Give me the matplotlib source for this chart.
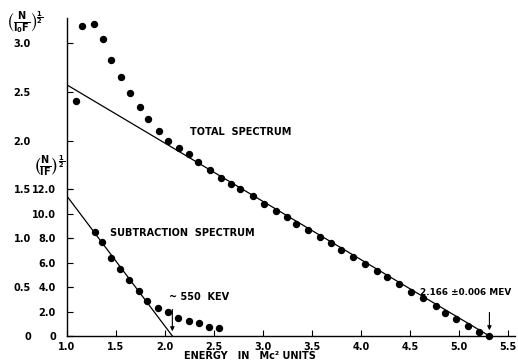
import matplotlib.pyplot as plt

# Kurie plot data: total spectrum on the (N/IoF)^1/2 scale,
# subtraction spectrum on the (N/IF)^1/2 scale
total_w = [1.09, 1.15, 1.28, 1.37, 1.45, 1.55, 1.64, 1.74, 1.83, 1.94,
           2.03, 2.14, 2.24, 2.34, 2.46, 2.57, 2.67, 2.77, 2.90, 3.01,
           3.13, 3.24, 3.34, 3.46, 3.58, 3.69, 3.80, 3.92, 4.04, 4.16,
           4.27, 4.39, 4.51, 4.63, 4.76, 4.86, 4.97, 5.09, 5.20, 5.31]
total_k = [2.41, 3.17, 3.19, 3.04, 2.83, 2.65, 2.49, 2.34, 2.22, 2.10,
           2.00, 1.92, 1.86, 1.78, 1.70, 1.62, 1.56, 1.50, 1.43, 1.35,
           1.28, 1.22, 1.15, 1.08, 1.01, 0.95, 0.88, 0.81, 0.74, 0.67,
           0.60, 0.53, 0.45, 0.39, 0.31, 0.24, 0.17, 0.10, 0.04, 0.0]
total_fit_w = [1.0, 5.31]
total_fit_k = [2.57, 0.0]

sub_w = [1.29, 1.36, 1.45, 1.54, 1.63, 1.73, 1.82, 1.93, 2.03, 2.13,
         2.24, 2.35, 2.45, 2.55]
sub_k = [8.5, 7.7, 6.4, 5.5, 4.6, 3.65, 2.9, 2.3, 1.95, 1.45,
         1.25, 1.05, 0.72, 0.65]
sub_fit_w = [1.0, 2.075]
sub_fit_k = [11.45, 0.0]

x_ticks = [1.0, 1.5, 2.0, 2.5, 3.0, 3.5, 4.0, 4.5, 5.0, 5.5]
outer_ticks = [0, 0.5, 1.0, 1.5, 2.0, 2.5, 3.0]
outer_labels = ["0", "0.5", "1.0", "1.5", "2.0", "2.5", "3.0"]
inner_ticks = [0, 2, 4, 6, 8, 10, 12]
inner_labels = ["0", "2.0", "4.0", "6.0", "8.0", "10.0", "12.0"]

plt.rcParams['font.family'] = 'DejaVu Sans'
plt.rcParams['font.weight'] = 'bold'
plt.rcParams['mathtext.fontset'] = 'dejavusans'
FS = 7

W, H = 518, 360
fig = plt.figure(figsize=(W / 100, H / 100), dpi=100)
ax = fig.add_axes([67 / W, 24 / H, 448 / W, 318 / H])
ax.set_xlim(1.0, 5.571)
ax.set_ylim(0, 3.255)
ax2 = ax.twinx()
ax2.set_ylim(0, 3.255 * 8)

for a in (ax, ax2):
    for s in ("top", "right"):
        a.spines[s].set_visible(False)
ax2.spines["left"].set_visible(False)
ax2.spines["bottom"].set_visible(False)
ax.spines["left"].set_linewidth(1.0)
ax.spines["bottom"].set_linewidth(1.0)

ax.set_xticks(x_ticks)
ax.set_xticklabels([f"{t:.1f}" for t in x_ticks], fontsize=FS, fontweight='bold')
ax.tick_params(axis='x', direction='in', length=4, width=0.8, pad=4)

ax.set_yticks(outer_ticks)
ax.set_yticklabels(outer_labels, fontsize=FS, fontweight='bold')
ax.tick_params(axis='y', direction='in', length=4, width=0.8, pad=26)

ax2.yaxis.set_ticks_position('left')
ax2.set_yticks(inner_ticks)
ax2.set_yticklabels(inner_labels, fontsize=FS, fontweight='bold')
ax2.tick_params(axis='y', direction='in', length=4, width=0.8, pad=8)

# total spectrum
ax.plot(total_fit_w, total_fit_k, color='black', lw=0.9)
ax.plot(total_w, total_k, 'o', color='black', ms=4.3, clip_on=False)

# subtraction spectrum
ax2.plot(sub_fit_w, sub_fit_k, color='black', lw=0.9)
ax2.plot(sub_w, sub_k, 'o', color='black', ms=4.3, clip_on=False)

arrow = dict(arrowstyle='-|>', color='black', lw=0.8, mutation_scale=6)
ax.annotate('', xy=(sub_fit_w[1], 0.02), xytext=(sub_fit_w[1], 0.30),
            arrowprops=arrow)
ax.annotate('', xy=(total_fit_w[1], 0.03), xytext=(total_fit_w[1], 0.27),
            arrowprops=arrow)

ax.text(2.26, 2.09, "TOTAL  SPECTRUM", fontsize=FS, fontweight='bold',
        va='center')
ax.text(1.44, 1.05, "SUBTRACTION  SPECTRUM", fontsize=FS, fontweight='bold',
        va='center')
ax.text(2.04, 0.40, "~ 550  KEV", fontsize=FS, fontweight='bold', va='center')
ax.text(4.60, 0.45, "2.166 \u00b10.006 MEV", fontsize=6.4, fontweight='bold',
        va='center')

fig.text(250 / W, 1 - 356 / H, "ENERGY   IN   Mc\u00b2 UNITS", fontsize=FS,
         fontweight='bold', ha='center', va='center')
fig.text(25 / W, 1 - 22 / H, r"$\left(\mathbf{\frac{N}{I_0 F}}\right)^{\frac{1}{2}}$",
         fontsize=10, ha='center', va='center')
fig.text(49 / W, 1 - 166 / H, r"$\left(\mathbf{\frac{N}{I F}}\right)^{\frac{1}{2}}$",
         fontsize=10, ha='center', va='center')

fig.savefig("out.png", dpi=100)
